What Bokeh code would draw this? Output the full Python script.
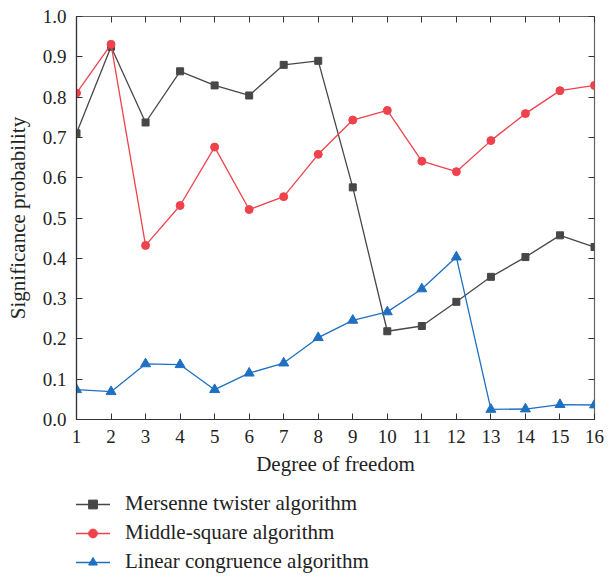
from bokeh.plotting import figure
from bokeh.layouts import column
from bokeh.models import (Legend, LegendItem, LinearAxis, FixedTicker, Range1d,
                          NumeralTickFormatter, CustomLabelingPolicy)
from bokeh.embed import file_html
from bokeh.resources import INLINE

dof = list(range(1, 17))
mersenne = [0.710, 0.925, 0.737, 0.864, 0.829, 0.804, 0.880, 0.890, 0.576, 0.219, 0.232, 0.292, 0.354, 0.403, 0.457, 0.428]
middle = [0.810, 0.931, 0.432, 0.531, 0.676, 0.521, 0.553, 0.658, 0.743, 0.767, 0.641, 0.615, 0.692, 0.759, 0.816, 0.829]
linear = [0.074, 0.069, 0.138, 0.136, 0.074, 0.115, 0.140, 0.203, 0.246, 0.267, 0.324, 0.403, 0.025, 0.026, 0.037, 0.036]
names = ["Mersenne twister algorithm", "Middle-square algorithm", "Linear congruence algorithm"]
y_ticks = [i / 10 for i in range(11)]

FONT = "Liberation Serif"
GRAY, RED, BLUE = "#474747", "#f0424c", "#1f70c1"
styles = [("square", 7, GRAY), ("circle", 8, RED), ("triangle", 10, BLUE)]
legend_sizes = [6, 7, 8]
all_series = [mersenne, middle, linear]

p = figure(width=612, height=480, output_backend="svg", toolbar_location=None,
           x_range=Range1d(1, 16), y_range=Range1d(0, 1.0),
           min_border_left=76, min_border_top=16, min_border_right=8, min_border_bottom=61,
           x_axis_label="Degree of freedom", y_axis_label="Significance probability")
p.xgrid.visible = False
p.ygrid.visible = False
p.outline_line_color = "#666666"
p.outline_line_width = 1.2

for series, (mk, sz, col) in zip(all_series, styles):
    p.line(dof, series, line_color=col, line_width=1.3)
    p.scatter(dof, series, marker=mk, size=sz, fill_color=col, line_color=col)

for ax in (p.xaxis[0], p.yaxis[0]):
    ax.major_tick_in = 6
    ax.major_tick_out = 0
    ax.minor_tick_line_color = None
    ax.axis_line_color = "#333333"
    ax.axis_line_width = 1.2
    ax.major_tick_line_color = "#333333"
    ax.major_label_text_font = FONT
    ax.major_label_text_font_size = "19px"
    ax.major_label_text_color = "#222222"
    ax.axis_label_text_font = FONT
    ax.axis_label_text_font_size = "21px"
    ax.axis_label_text_font_style = "normal"
    ax.axis_label_text_color = "#222222"
p.xaxis[0].ticker = FixedTicker(ticks=dof)
p.yaxis[0].ticker = FixedTicker(ticks=y_ticks)
p.yaxis[0].formatter = NumeralTickFormatter(format="0.0")
p.xaxis[0].major_label_standoff = 10
p.yaxis[0].major_label_standoff = 10
p.xaxis[0].axis_label_standoff = 6
p.yaxis[0].axis_label_standoff = 10

top = LinearAxis(ticker=FixedTicker(ticks=dof), major_tick_in=6, major_tick_out=0,
                 minor_tick_line_color=None, major_label_policy=CustomLabelingPolicy(code="return []"),
                 axis_line_color=None, major_tick_line_color="#333333", major_label_standoff=0)
right = LinearAxis(ticker=FixedTicker(ticks=y_ticks), major_tick_in=6, major_tick_out=0,
                   minor_tick_line_color=None, major_label_policy=CustomLabelingPolicy(code="return []"),
                   axis_line_color=None, major_tick_line_color="#333333", major_label_standoff=0)
p.add_layout(top, "above")
p.add_layout(right, "right")

# legend panel below the chart (its renderers sit outside its visible range)
lg = figure(width=612, height=98, output_backend="svg", toolbar_location=None,
            x_range=Range1d(100, 101), y_range=Range1d(100, 101), min_border=0,
            x_axis_location=None, y_axis_location=None)
lg.xgrid.visible = False
lg.ygrid.visible = False
lg.outline_line_color = None
items = []
for name, series, (mk, sz, col), lsz in zip(names, all_series, styles, legend_sizes):
    rl = lg.line(dof, series, line_color=col, line_width=1.3)
    rm = lg.scatter(dof, series, marker=mk, size=lsz, fill_color=col, line_color=col)
    items.append(LegendItem(label=name, renderers=[rl, rm]))
legend = Legend(items=items, location=(-1, 4), orientation="vertical",
                label_text_font=FONT, label_text_font_size="21px", label_text_color="#222222",
                border_line_color=None, background_fill_alpha=0,
                glyph_width=35, label_standoff=15, spacing=4, margin=0, padding=6)
legend.label_height = 22
legend.glyph_height = 22
lg.add_layout(legend, "center")

open("out.html", "w").write(file_html(column(p, lg, spacing=0), INLINE))
